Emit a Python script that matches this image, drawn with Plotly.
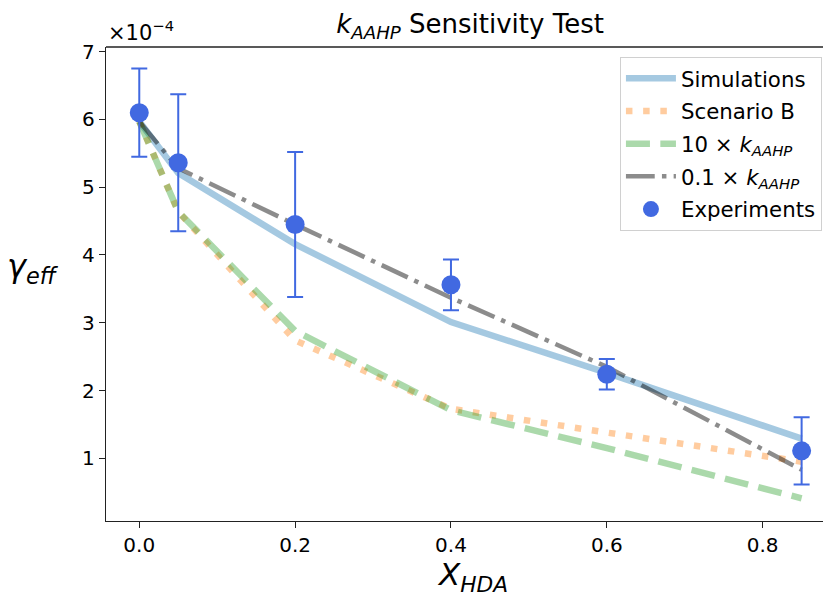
import plotly.graph_objects as go

# ---------------- data ----------------
x_hda = [0.0, 0.05, 0.2, 0.4, 0.6, 0.85]

exp_y = [6.10, 5.36, 4.45, 3.56, 2.24, 1.11]
exp_err = [0.65, 1.01, 1.07, 0.375, 0.225, 0.495]

sim_y = [5.97, 5.21, 4.16, 3.01, 2.26, 1.29]
scenB_y = [5.97, 4.64, 2.74, 1.73, 1.38, 0.95]
k10_y = [5.97, 4.64, 2.88, 1.71, 1.15, 0.41]
k01_y = [5.97, 5.28, 4.45, 3.37, 2.35, 0.83]

x_ticks = [0.0, 0.2, 0.4, 0.6, 0.8]
x_ticklabels = ["0.0", "0.2", "0.4", "0.6", "0.8"]
y_ticks = [1, 2, 3, 4, 5, 6, 7]
y_ticklabels = ["1", "2", "3", "4", "5", "6", "7"]

names = ["Simulations", "Scenario B",
         "10 × <i>k</i><sub><i>AAHP</i></sub>",
         "0.1 × <i>k</i><sub><i>AAHP</i></sub>",
         "Experiments"]

FONT = "DejaVu Sans"

fig = go.Figure()

fig.add_trace(go.Scatter(
    x=x_hda, y=sim_y, mode="lines", name=names[0], legendgroup="a",
    line=dict(color="rgba(31,119,180,0.4)", width=6.5)))
fig.add_trace(go.Scatter(
    x=x_hda, y=scenB_y, mode="lines", name=names[1], legendgroup="b",
    line=dict(color="rgba(255,127,14,0.4)", width=6.5, dash="6.5px,10.7px")))
fig.add_trace(go.Scatter(
    x=x_hda, y=k10_y, mode="lines", name=names[2], legendgroup="c",
    line=dict(color="rgba(44,160,44,0.4)", width=6.5, dash="24px,10.4px")))
fig.add_trace(go.Scatter(
    x=x_hda, y=k01_y, mode="lines", name=names[3], legendgroup="d",
    line=dict(color="rgba(0,0,0,0.45)", width=4.5, dash="28.8px,7.2px,4.5px,7.2px")))
fig.add_trace(go.Scatter(
    x=x_hda, y=exp_y, mode="markers", name=names[4], legendgroup="e",
    marker=dict(color="#4169e1", size=19),
    error_y=dict(type="data", array=exp_err, color="#4169e1", thickness=2, width=8)))

# page body has an 8px margin: figure is sized/offset to compensate
fig.update_layout(
    width=823, height=588,
    margin=dict(l=98, r=0, t=39, b=75),
    paper_bgcolor="white", plot_bgcolor="white",
    font=dict(family=FONT, size=20, color="black"),
    title=dict(text="<i>k</i><sub><i>AAHP</i></sub> Sensitivity Test",
               xref="container", x=0.5614, xanchor="center",
               yref="container", y=0.9728, yanchor="middle",
               font=dict(family=FONT, size=26, color="black")),
    legend=dict(x=0.9875, xanchor="right", y=0.979, yanchor="top",
                bgcolor="rgba(255,255,255,0.8)", bordercolor="#d0d0d0", borderwidth=1,
                font=dict(family=FONT, size=21.3, color="black"),
                tracegroupgap=2, itemwidth=50),
    showlegend=True,
)

fig.update_xaxes(
    range=[-0.0427, 0.8877], tickvals=x_ticks, ticktext=x_ticklabels,
    showgrid=False, zeroline=False,
    showline=True, linecolor="#222", linewidth=1.3, mirror=False,
    ticks="outside", ticklen=6, tickwidth=1.3, tickcolor="#222",
    tickfont=dict(family=FONT, size=20, color="black"))
fig.update_yaxes(
    range=[0.075, 7.069], tickvals=y_ticks, ticktext=y_ticklabels,
    showgrid=False, zeroline=False,
    showline=True, linecolor="#222", linewidth=1.3, mirror=False,
    ticks="outside", ticklen=6, tickwidth=1.3, tickcolor="#222",
    tickfont=dict(family=FONT, size=20, color="black"))

# top spine
fig.add_shape(type="line", xref="paper", yref="paper", x0=0, x1=1, y0=1, y1=1,
              line=dict(color="#222", width=1.3), layer="above")

fig.add_annotation(text="×10<sup>−4</sup>", xref="paper", yref="paper",
                   x=0.0, xanchor="left", y=1.034, yanchor="middle",
                   showarrow=False, font=dict(family=FONT, size=21, color="black"))
fig.add_annotation(text="<i>γ</i><sub><i>eff</i></sub>", xref="paper", yref="paper",
                   x=-0.1007, xanchor="center", y=0.534, yanchor="middle",
                   showarrow=False, font=dict(family=FONT, size=32, color="black"))
fig.add_annotation(text="<i>X</i><sub><i>HDA</i></sub>", xref="paper", yref="paper",
                   x=0.505, xanchor="center", y=-0.117, yanchor="middle",
                   showarrow=False, font=dict(family=FONT, size=31, color="black"))

fig.write_html("out.html")
